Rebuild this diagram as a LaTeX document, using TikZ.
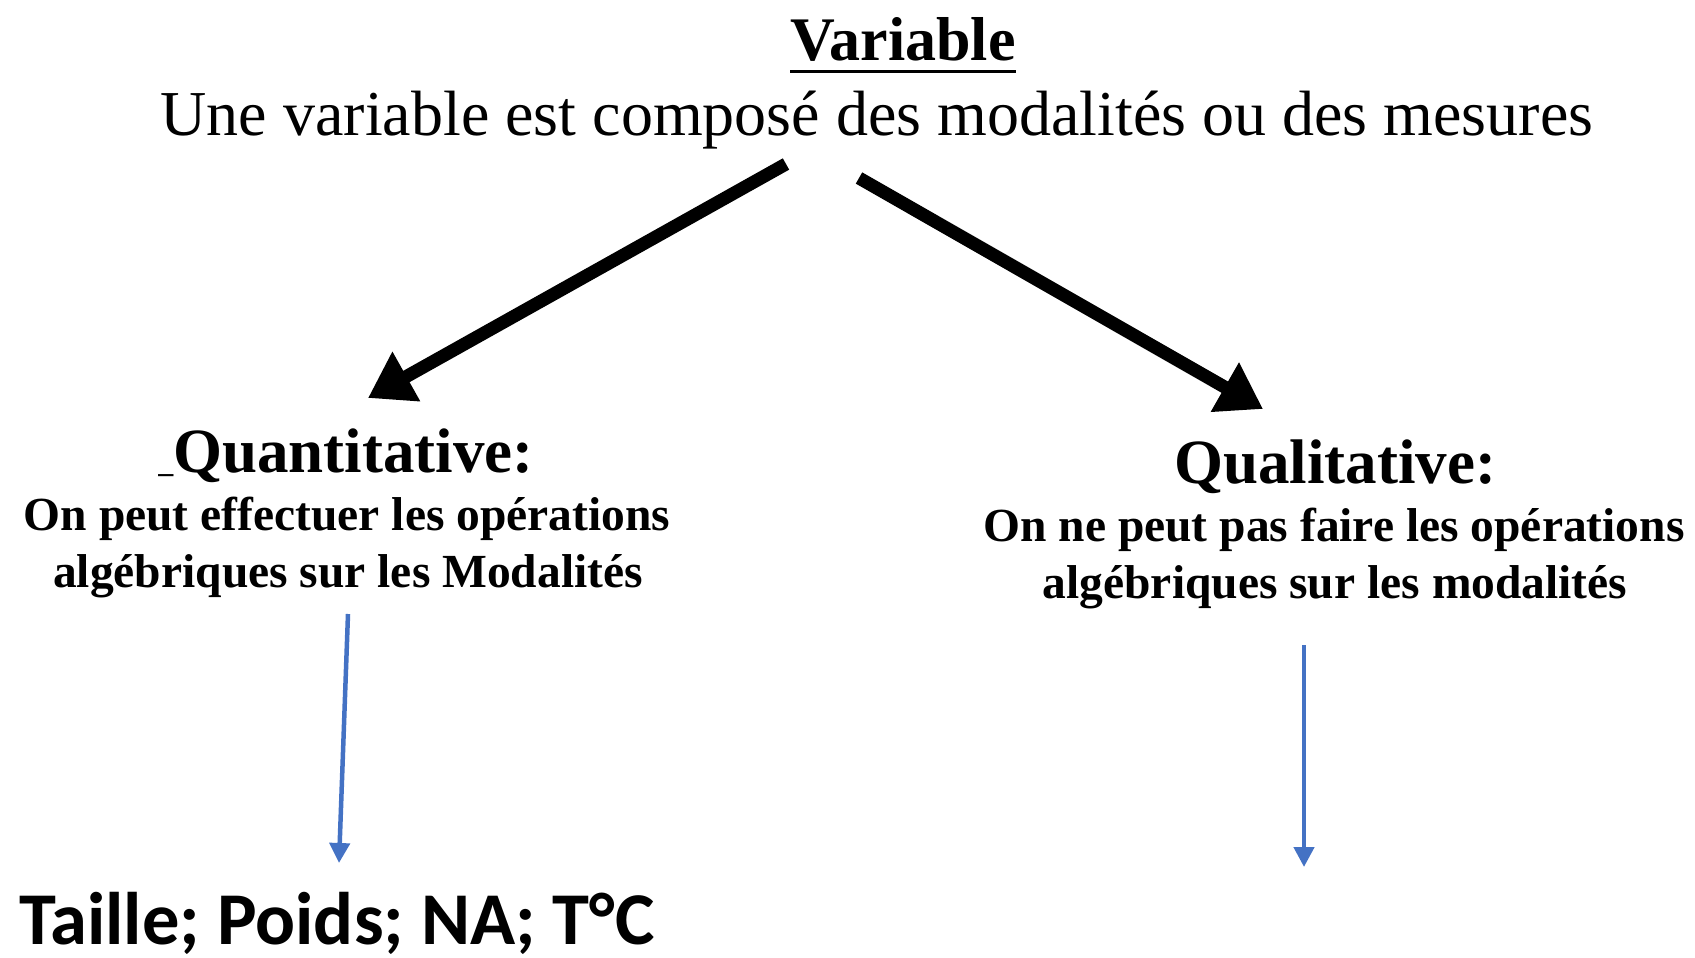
\documentclass[tikz,border=0pt]{standalone}
\usepackage{fontspec}
\setmainfont{Liberation Serif}
\newfontfamily\calib{Carlito}
\usetikzlibrary{arrows.meta}
\definecolor{arrowblue}{HTML}{4472C4}
\tikzset{
  txt/.style={inner sep=0pt, anchor=base},
  desc/.style={txt, font=\fontsize{47.5}{52}\selectfont\bfseries},
  bigarrow/.style={line width=13pt, -{Triangle[length=44pt,width=54pt]}},
  bluearrow/.style={draw=arrowblue, line width=4.5pt, -{Triangle[length=20pt,width=20pt]}, arrowblue},
}
\begin{document}
\begin{tikzpicture}[x=1pt,y=-1pt]
\useasboundingbox (0,0) rectangle (1695,958);
% top
\node[txt, font=\fontsize{62}{70}\selectfont\bfseries] (title) at (903,60) {Variable};
\draw[line width=3pt] ([yshift=-12pt]title.base west) -- ([yshift=-12pt]title.base east);
\node[txt, font=\fontsize{64}{70}\selectfont] (def) at (877,135) {Une variable est composé des modalités ou des mesures};
% left branch
\node[txt, font=\fontsize{63}{70}\selectfont\bfseries] (quant) at (346,472) {{\fontsize{30}{30}\selectfont\_}Quantitative:};
\node[desc] (qd1) at (347,530) {On peut effectuer les opérations};
\node[desc] (qd2) at (348,587) {algébriques sur les Modalités};
\node[txt, anchor=base west, font=\fontsize{74.5}{80}\selectfont\calib\bfseries] (ex) at (19,944) {Taille; Poids; NA; T°C};
% right branch
\node[txt, font=\fontsize{63}{70}\selectfont\bfseries] (qual) at (1335,483) {Qualitative:};
\node[desc] (ld1) at (1334,541) {On ne peut pas faire les opérations};
\node[desc] (ld2) at (1335,598) {algébriques sur les modalités};
\coordinate (qend) at (1304,867);
% arrows
\draw[bigarrow] ([xshift=-91pt,yshift=-29pt]def.base) -- ([xshift=22pt,yshift=74pt]quant.base);
\draw[bigarrow] ([xshift=-18pt,yshift=-43pt]def.base) -- ([xshift=-72pt,yshift=74pt]qual.base);
\draw[bluearrow] ([yshift=-27pt]qd2.base) -- ([xshift=320pt,yshift=81pt]ex.base west);
\draw[bluearrow] ([xshift=-31pt,yshift=-47pt]ld2.base) -- (qend);
\end{tikzpicture}
\end{document}
